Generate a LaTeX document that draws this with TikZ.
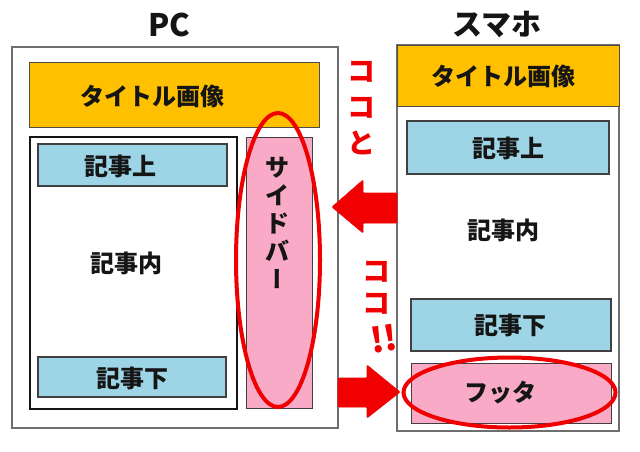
\documentclass[tikz,border=0pt]{standalone}
\usepackage{fontspec}
\setmainfont{Noto Sans CJK JP}
\definecolor{titleyellow}{HTML}{FFC000}
\definecolor{boxblue}{HTML}{9DD4E6}
\definecolor{boxpink}{HTML}{F8AAC6}
\definecolor{inkblack}{HTML}{151515}
\definecolor{framegray}{HTML}{6E6E6E}
\definecolor{markred}{HTML}{F00000}
\begin{document}
\begin{tikzpicture}[x=1pt,y=-1pt,
  box/.style={draw, inner sep=0pt, outer sep=0pt, anchor=north west},
  frame/.style={box, draw=framegray, line width=1.4pt, fill=white},
  content/.style={box, draw=inkblack, line width=1.1pt, fill=white},
  titlebox/.style={box, draw=framegray!70!black, line width=1pt, fill=titleyellow},
  bluebox/.style={box, draw=black!75, line width=1.2pt, fill=boxblue},
  pinkbox/.style={box, draw=black!75, line width=1pt, fill=boxpink},
  lbl/.style={text=inkblack, font=\bfseries\fontsize{24}{28}\selectfont, inner sep=0pt},
  head/.style={text=inkblack, font=\bfseries\fontsize{30}{34}\selectfont, inner sep=0pt},
  redtext/.style={text=markred, font=\bfseries\fontsize{28}{36}\selectfont, inner sep=0pt, align=center},
  ring/.style={draw=markred, line width=4pt},
  bigarrow/.style={fill=markred, draw=markred, line width=0.6pt, rounded corners=1pt}
]
\useasboundingbox[fill=white] (0,0) rectangle (640,451);

% headings
\node[head, font=\bfseries\fontsize{31}{34}\selectfont] (pchead) at (169,25) {PC};
\node[head] (sphead) at (497,24) {スマホ};

% PC frame
\node[frame, minimum width=326pt, minimum height=381pt] (pc) at (12,47) {};
\node[titlebox, minimum width=290pt, minimum height=65pt] (pctitle) at (29,62) {};
\node[lbl] (pctitlet) at (152,96) {タイトル画像};
\node[content, minimum width=207pt, minimum height=272pt] (pcbody) at (30,137) {};
\node[bluebox, minimum width=189pt, minimum height=42pt] (pctop) at (38,144) {};
\node[lbl] (pctopt) at (120,166) {記事上};
\node[lbl] (pcmid) at (126,263) {記事内};
\node[bluebox, minimum width=188pt, minimum height=40pt] (pcbot) at (38,357) {};
\node[lbl] (pcbott) at (132,378) {記事下};
\node[pinkbox, minimum width=66pt, minimum height=271pt] (side) at (246,137) {};
\node[lbl, align=center, font=\bfseries\fontsize{24}{28}\selectfont] (sidet) at (277,223) {サ\\イ\\ド\\バ\\{\addfontfeature{RawFeature=+vert}ー}};
\draw[ring] (278,260) ellipse [x radius=42pt, y radius=147pt];

% Smartphone frame
\node[frame, minimum width=222pt, minimum height=386pt] (sp) at (397,45) {};
\node[titlebox, minimum width=222pt, minimum height=61pt] (sptitle) at (397,45) {};
\node[lbl] (sptitlet) at (503,76) {タイトル画像};
\node[bluebox, minimum width=202pt, minimum height=53pt] (sptop) at (407,121) {};
\node[lbl] (sptopt) at (508,148) {記事上};
\node[lbl] (spmid) at (503,230) {記事内};
\node[bluebox, minimum width=200pt, minimum height=52pt] (spbot) at (411,299) {};
\node[lbl] (spbott) at (510,325) {記事下};
\node[pinkbox, minimum width=200pt, minimum height=60pt] (foot) at (411,363) {};
\node[lbl] (foott) at (500,393) {フッタ};
\draw[ring] (509.5,392.5) ellipse [x radius=106pt, y radius=35pt];

% arrows
\draw[bigarrow] (397,193) -- (363,193) -- (363,180) -- (332,207) -- (363,233) -- (363,223) -- (397,223) -- cycle;
\draw[bigarrow] (338,378) -- (367,378) -- (367,365) -- (400,392) -- (367,418) -- (367,407) -- (338,407) -- cycle;

% red notes
\node[redtext] (note1) at (361,108) {コ\\コ\\と};
\node[redtext, font=\bfseries\fontsize{28}{32}\selectfont] (note2) at (376,288) {コ\\コ};
\node[redtext, rotate=8, font=\bfseries\fontsize{34}{36}\selectfont] (note3) at (384,339) {!!};
\end{tikzpicture}
\end{document}
